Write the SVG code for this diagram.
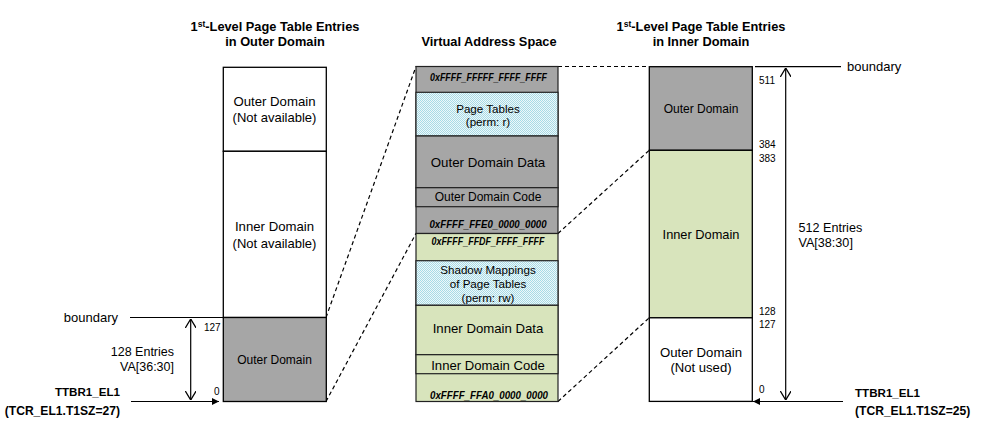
<svg xmlns="http://www.w3.org/2000/svg" width="981" height="426" viewBox="0 0 981 426">
<style>
text{font-family:"Liberation Sans",Arial,sans-serif;fill:#000}
.t{font-size:12.8px;font-weight:bold;text-anchor:middle}
.c{text-anchor:middle}
.s{font-size:10px}
.sm{font-size:11.6px}
.addr{font-size:11.6px;font-weight:bold;font-style:italic;text-anchor:middle}
.b{font-size:11.6px;font-weight:bold}
.b2{font-size:12.1px;font-weight:bold}
.box{stroke:#000;stroke-width:1.3}
.mbox{stroke:#222;stroke-width:1.2}
.gray{fill:#a6a6a6}
.green{fill:#d8e4bc}
.white{fill:#fff}
.dash{stroke:#000;stroke-width:1.2;stroke-dasharray:4,3;fill:none}
.ln{stroke:#000;stroke-width:1.2;fill:none}
</style>
<defs>
<pattern id="chk" width="2" height="2" patternUnits="userSpaceOnUse">
<rect width="2" height="2" fill="#eef8fa"/>
<rect width="1" height="1" fill="#a8dbe6"/>
<rect x="1" y="1" width="1" height="1" fill="#a8dbe6"/>
</pattern>
<marker id="fa" viewBox="0 0 10 10" refX="10" refY="5" markerWidth="8" markerHeight="7" markerUnits="userSpaceOnUse" orient="auto">
<path d="M0,0 L10,5 L0,10 Z" fill="#000"/>
</marker>
<marker id="oa" viewBox="0 0 10 12" refX="10" refY="6" markerWidth="9" markerHeight="11" markerUnits="userSpaceOnUse" orient="auto-start-reverse">
<path d="M0,0 L10,6 L0,12" fill="none" stroke="#000" stroke-width="1.4"/>
</marker>
</defs>

<g id="titles">
<text class="t" x="275" y="30.5">1<tspan font-size="8.5" dy="-4">st</tspan><tspan dy="4">-Level Page Table Entries</tspan></text>
<text class="t" x="275" y="45.5">in Outer Domain</text>
<text class="t" x="489" y="45.5">Virtual Address Space</text>
<text class="t" x="701" y="30.5">1<tspan font-size="8.5" dy="-4">st</tspan><tspan dy="4">-Level Page Table Entries</tspan></text>
<text class="t" x="701" y="45.5">in Inner Domain</text>
</g>

<g id="connectors">
<path class="dash" d="M326,317.5 L416,66.5"/>
<path class="dash" d="M326,401.5 L416,233.5"/>
<path class="dash" d="M558,66.5 L649,66.5"/>
<path class="dash" d="M558,233.5 L649,150.5"/>
<path class="dash" d="M558,401.5 L649,318"/>
<path class="ln" d="M130,317.5 L223,317.5"/>
<path class="ln" d="M190.7,319 L190.7,400" marker-start="url(#oa)" marker-end="url(#oa)"/>
<path class="ln" d="M131,401.5 L219,401.5" marker-end="url(#fa)"/>
<path class="ln" d="M755,66.7 L841,66.7"/>
<path class="ln" d="M785.7,68 L785.7,400" marker-start="url(#oa)" marker-end="url(#oa)"/>
<path class="ln" d="M843,401.5 L753,401.5" marker-end="url(#fa)"/>
</g>

<g id="outer-table">
<rect class="box white" x="223.3" y="67.3" width="103" height="84"/>
<rect class="box white" x="223.3" y="151.3" width="103" height="166.2"/>
<rect class="box gray" x="223.3" y="317.5" width="103" height="84"/>
<text class="c" font-size="13.2" x="274.5" y="106.3">Outer Domain</text>
<text class="c" font-size="13" x="274.5" y="121.8">(Not available)</text>
<text class="c" font-size="13.2" x="274.5" y="231.3">Inner Domain</text>
<text class="c" font-size="13" x="274.5" y="247.8">(Not available)</text>
<text class="c" font-size="12" x="274.5" y="363.5">Outer Domain</text>
</g>

<g id="outer-labels">
<text font-size="13" x="118" y="321.5" text-anchor="end">boundary</text>
<text class="s" x="204" y="330.5">127</text>
<text class="s" x="214" y="394.5">0</text>
<text font-size="12.5" x="174" y="355.5" text-anchor="end">128 Entries</text>
<text font-size="12.5" x="174" y="371" text-anchor="end">VA[36:30]</text>
<text class="b" x="120" y="396.3" text-anchor="end">TTBR1_EL1</text>
<text class="b2" x="120" y="414.8" text-anchor="end">(TCR_EL1.T1SZ=27)</text>
</g>

<g id="va-space">
<rect class="mbox gray" x="416" y="66.5" width="142" height="167"/>
<rect class="mbox" fill="url(#chk)" x="416" y="92.3" width="142" height="43.7"/>
<rect class="mbox gray" x="416" y="136" width="142" height="51.7"/>
<rect class="mbox gray" x="416" y="187.7" width="142" height="19"/>
<rect class="mbox green" x="416" y="233.5" width="142" height="168"/>
<rect class="mbox" fill="url(#chk)" x="416" y="260.7" width="142" height="44.6"/>
<rect class="mbox green" x="416" y="305.3" width="142" height="49.4"/>
<rect class="mbox green" x="416" y="354.7" width="142" height="19"/>
<text class="addr" x="488.5" y="80.5" textLength="117" lengthAdjust="spacingAndGlyphs">0xFFFF_FFFFF_FFFF_FFFF</text>
<text class="c sm" x="488" y="113">Page Tables</text>
<text class="c sm" x="488" y="126">(perm: r)</text>
<text class="c" font-size="13.3" x="488" y="166.5">Outer Domain Data</text>
<text class="c" font-size="12" x="488" y="201">Outer Domain Code</text>
<text class="addr" x="488" y="227.5" textLength="117" lengthAdjust="spacingAndGlyphs">0xFFFF_FFE0_0000_0000</text>
<text class="addr" x="488" y="244.5" textLength="113" lengthAdjust="spacingAndGlyphs">0xFFFF_FFDF_FFFF_FFFF</text>
<text class="c sm" x="488" y="274">Shadow Mappings</text>
<text class="c sm" x="488" y="287.5">of Page Tables</text>
<text class="c sm" x="488" y="301.5">(perm: rw)</text>
<text class="c" font-size="13.2" x="488" y="333">Inner Domain Data</text>
<text class="c" font-size="13.1" x="488" y="369.5">Inner Domain Code</text>
<text class="addr" x="489" y="399" textLength="118" lengthAdjust="spacingAndGlyphs">0xFFFF_FFA0_0000_0000</text>
</g>

<g id="inner-table">
<rect class="box gray" x="649.3" y="66.7" width="103" height="83.6"/>
<rect class="box green" x="649.3" y="150.3" width="103" height="167.5"/>
<rect class="box white" x="649.3" y="317.8" width="103" height="83.6"/>
<text class="c" font-size="12" x="701" y="113">Outer Domain</text>
<text class="c" font-size="12.8" x="701" y="239.3">Inner Domain</text>
<text class="c" font-size="13.2" x="701" y="357.3">Outer Domain</text>
<text class="c" font-size="13.1" x="701" y="372.3">(Not used)</text>
</g>

<g id="inner-labels">
<text font-size="13" x="847" y="70.5">boundary</text>
<text class="s" x="759" y="84">511</text>
<text class="s" x="759" y="148">384</text>
<text class="s" x="759" y="162">383</text>
<text class="s" x="759" y="314.5">128</text>
<text class="s" x="759" y="328">127</text>
<text class="s" x="759" y="393">0</text>
<text font-size="12.6" x="798.5" y="231.5">512 Entries</text>
<text font-size="12.6" x="798.5" y="246.5">VA[38:30]</text>
<text class="b" x="855" y="397.3">TTBR1_EL1</text>
<text class="b2" x="855" y="414.8">(TCR_EL1.T1SZ=25)</text>
</g>
</svg>
